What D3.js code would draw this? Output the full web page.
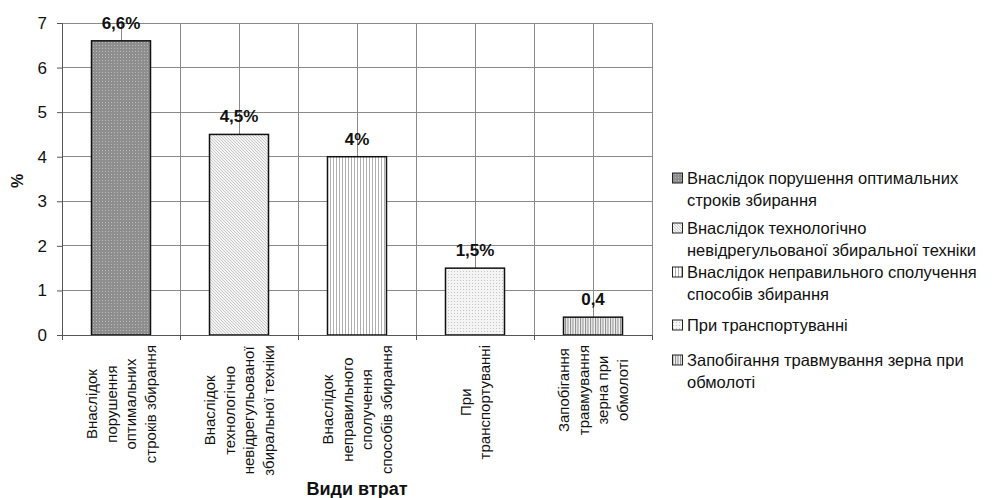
<!DOCTYPE html>
<html>
<head>
<meta charset="utf-8">
<script src="https://cdn.jsdelivr.net/npm/d3@7"></script>
<style>
  html, body { margin: 0; padding: 0; background: #fff; }
  svg { display: block; }
  text { font-family: Arial, "Liberation Sans", sans-serif; fill: #111; }
</style>
</head>
<body>
<svg id="chart" width="997" height="498"></svg>
<script>
// ---- data ----
const categories = [
  ["Внаслідок", "порушення", "оптимальних", "строків збирання"],
  ["Внаслідок", "технологічно", "невідрегульованої", "збиральної техніки"],
  ["Внаслідок", "неправильного", "сполучення", "способів збирання"],
  ["При", "транспортуванні"],
  ["Запобігання", "травмування", "зерна при", "обмолоті"]
];
const values = [6.6, 4.5, 4, 1.5, 0.4];
const valueLabels = ["6,6%", "4,5%", "4%", "1,5%", "0,4"];
const legendLabels = [
  ["Внаслідок порушення оптимальних", "строків збирання"],
  ["Внаслідок технологічно", "невідрегульованої збиральної техніки"],
  ["Внаслідок неправильного сполучення", "способів збирання"],
  ["При транспортуванні"],
  ["Запобігання травмування зерна при", "обмолоті"]
];
const yTicks = [0, 1, 2, 3, 4, 5, 6, 7];
const yTitle = "%";
const xTitle = "Види втрат";

// ---- layout ----
const svg = d3.select("#chart");
const pLeft = 62, pRight = 652, pTop = 23, pBottom = 335;
const idx = d3.range(values.length);
const x = d3.scaleBand().domain(idx).range([pLeft, pRight]).paddingInner(0.5).paddingOuter(0.25);
const y = d3.scaleLinear().domain([0, 7]).range([pBottom, pTop]);
const step = x.step();
const bw = x.bandwidth();

// ---- patterns ----
const defs = svg.append("defs");
function pat(id, w, h, bg, draw) {
  const p = defs.append("pattern").attr("id", id).attr("patternUnits", "userSpaceOnUse")
    .attr("width", w).attr("height", h);
  p.append("rect").attr("width", w).attr("height", h).attr("fill", bg);
  draw(p);
}
pat("p0", 3, 3, "#8e8e8e", p => {
  p.append("rect").attr("x", 0).attr("y", 0).attr("width", 1).attr("height", 1).attr("fill", "#b8b8b8");
});
pat("p1", 3, 3, "#f4f4f4", p => {
  p.append("path").attr("d", "M0,0 L3,3 M-1,2 L1,4 M2,-1 L4,1").attr("stroke", "#b4b4b4").attr("stroke-width", 0.7);
});
pat("p2", 3, 3, "#ffffff", p => {
  p.append("rect").attr("x", 0).attr("y", 0).attr("width", 1).attr("height", 3).attr("fill", "#b0b0b0");
});
pat("p3", 3, 3, "#f4f4f4", p => {
  p.append("rect").attr("x", 1).attr("y", 1).attr("width", 1).attr("height", 1).attr("fill", "#c4c4c4");
});
pat("p4", 2.5, 3, "#f2f2f2", p => {
  p.append("rect").attr("x", 0).attr("y", 0).attr("width", 1).attr("height", 3).attr("fill", "#8a8a8a");
});

// ---- gridlines ----
const grid = svg.append("g").attr("stroke", "#8a8a8a").attr("stroke-width", 1).attr("shape-rendering", "crispEdges");
yTicks.forEach(t => {
  grid.append("line").attr("x1", pLeft).attr("x2", pRight).attr("y1", y(t)).attr("y2", y(t));
});
const vlines = [];
idx.forEach(i => { vlines.push(pLeft + step * (i + 1)); vlines.push(x(i) + bw / 2); });
vlines.forEach(v => {
  grid.append("line").attr("x1", v).attr("x2", v).attr("y1", pTop).attr("y2", pBottom);
});

// ---- bars ----
svg.append("g").selectAll("rect").data(idx).join("rect")
  .attr("x", i => x(i)).attr("y", i => y(values[i]))
  .attr("width", bw).attr("height", i => y(0) - y(values[i]))
  .attr("fill", i => `url(#p${i})`)
  .attr("stroke", "#111").attr("stroke-width", 1.5);

// ---- axes ----
const yAxis = svg.append("g").attr("transform", `translate(${pLeft},0)`)
  .call(d3.axisLeft(y).tickValues(yTicks).tickSize(5).tickPadding(10).tickFormat(d3.format("d")));
yAxis.select(".domain").attr("stroke", "#555");
yAxis.selectAll(".tick line").attr("stroke", "#555");
yAxis.selectAll(".tick text").attr("font-size", 17).attr("fill", "#111")
  .style("font-family", "Arial, 'Liberation Sans', sans-serif");

const xAxisG = svg.append("g").attr("shape-rendering", "crispEdges");
xAxisG.append("line").attr("x1", pLeft).attr("x2", pRight).attr("y1", pBottom).attr("y2", pBottom).attr("stroke", "#555");
d3.range(values.length + 1).forEach(i => {
  const xv = pLeft + step * i;
  xAxisG.append("line").attr("x1", xv).attr("x2", xv).attr("y1", pBottom).attr("y2", pBottom + 5).attr("stroke", "#555");
});

// ---- value labels ----
svg.append("g").selectAll("text").data(idx).join("text")
  .attr("x", i => x(i) + bw / 2).attr("y", i => y(values[i]) - 12)
  .attr("text-anchor", "middle").attr("font-size", 17).attr("font-weight", "bold")
  .text(i => valueLabels[i]);

// ---- category labels (rotated) ----
const lineGap = 19.7;
const labelTop = 345;
idx.forEach(i => {
  const cx = x(i) + bw / 2;
  const g = svg.append("g");
  const lines = categories[i];
  const n = lines.length;
  const texts = lines.map((t, j) => g.append("text").attr("font-size", 15)
    .attr("text-anchor", "middle").attr("dominant-baseline", "central").text(t));
  const maxLen = d3.max(texts, t => t.node().getComputedTextLength());
  const cy = labelTop + maxLen / 2;
  texts.forEach((t, j) => {
    const lx = cx + (j - (n - 1) / 2) * lineGap;
    t.attr("transform", `translate(${lx},${cy}) rotate(-90)`);
  });
});

// ---- axis titles ----
svg.append("text").attr("transform", `translate(17,${(pTop + pBottom) / 2 + 2}) rotate(-90)`)
  .attr("text-anchor", "middle").attr("dominant-baseline", "central")
  .attr("font-size", 16).attr("font-weight", "bold").text(yTitle);
svg.append("text").attr("x", (pLeft + pRight) / 2).attr("y", 495)
  .attr("text-anchor", "middle").attr("font-size", 18).attr("font-weight", "bold").text(xTitle);

// ---- legend ----
const legendTops = [178, 228, 272, 325, 360];
const legend = svg.append("g");
legendLabels.forEach((lines, i) => {
  const cy = legendTops[i];
  legend.append("rect").attr("x", 672.5).attr("y", cy - 5).attr("width", 10).attr("height", 10)
    .attr("fill", `url(#p${i})`).attr("stroke", "#222").attr("stroke-width", 1);
  lines.forEach((t, j) => {
    legend.append("text").attr("x", 687).attr("y", cy + j * 22)
      .attr("dominant-baseline", "central").attr("font-size", 16.5).text(t);
  });
});
</script>
</body>
</html>
